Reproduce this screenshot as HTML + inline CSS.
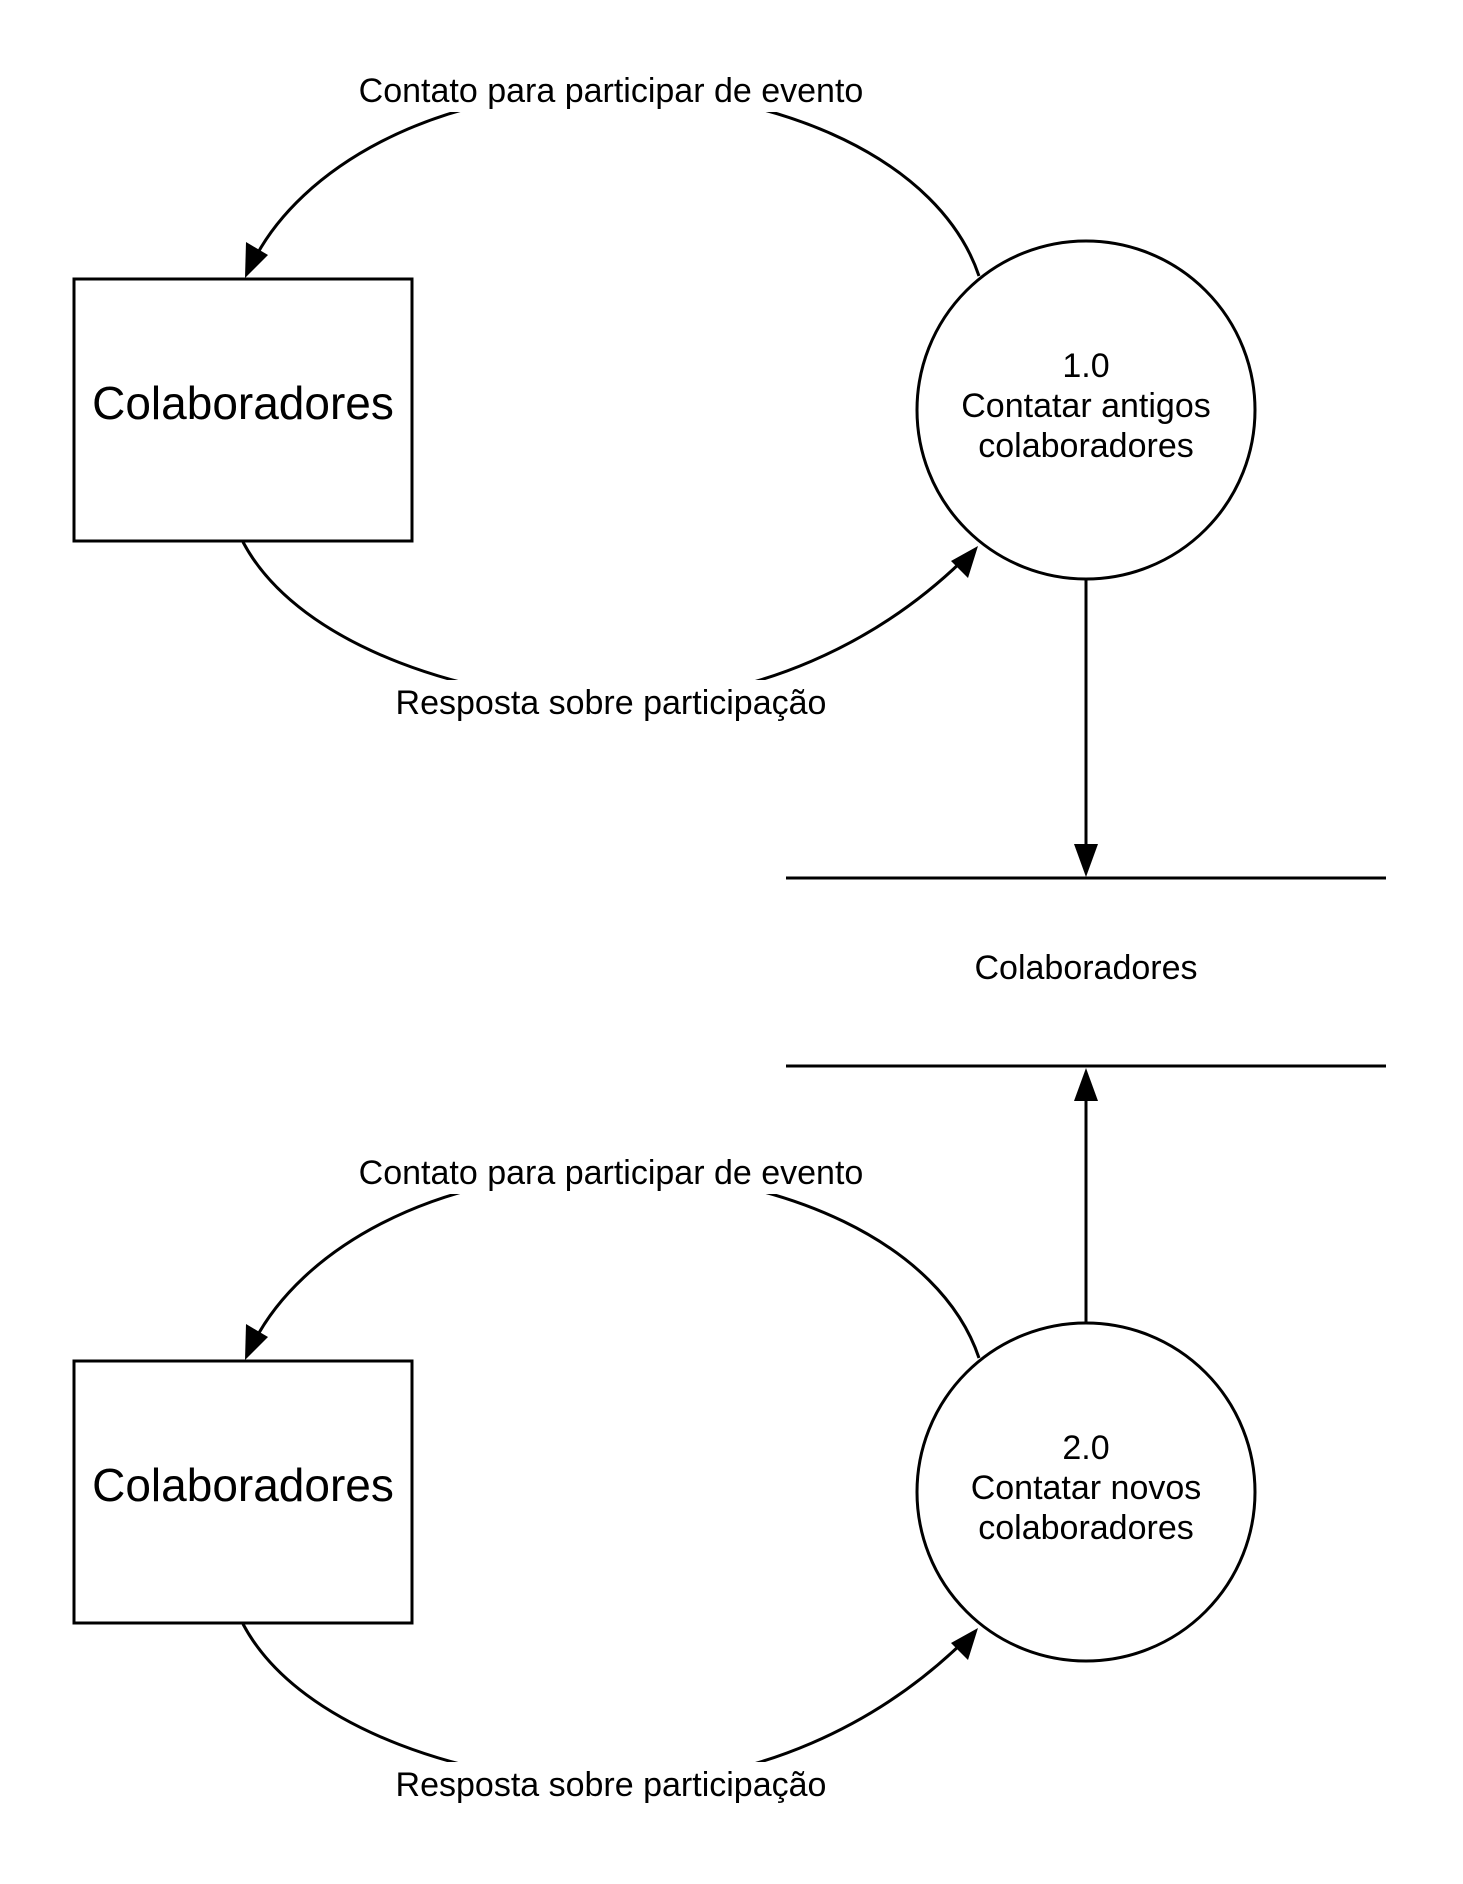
<!DOCTYPE html>
<html><head><meta charset="utf-8"><style>
html,body{margin:0;padding:0;background:#fff;}
svg{display:block;}
text{font-family:"Liberation Sans",Arial,sans-serif;fill:#000;}
</style></head><body>
<svg width="1463" height="1884" viewBox="0 0 1463 1884" xmlns="http://www.w3.org/2000/svg">
<g id="grp">
<rect x="74" y="279" width="338" height="262" fill="#fff" stroke="#000" stroke-width="3"/>
<text x="243" y="419" font-size="46" text-anchor="middle">Colaboradores</text>
<path d="M979,276 C940,160 780,90 611,90 C430,90 300,170 254,260" fill="none" stroke="#000" stroke-width="3"/>
<polygon points="245,278 246,242 268,255" fill="#000"/>
<rect x="350" y="68" width="522" height="44" fill="#fff"/>
<path d="M243,542 C300,650 480,702 611,702 C760,702 880,640 962,561" fill="none" stroke="#000" stroke-width="3"/>
<polygon points="978,546 968,578 951,561" fill="#000"/>
<rect x="383" y="680" width="456" height="44" fill="#fff"/>
<circle cx="1086" cy="410" r="169" fill="#fff" stroke="#000" stroke-width="3"/>
</g>
<text x="611" y="102" font-size="34" text-anchor="middle">Contato para participar de evento</text>
<text x="611" y="714" font-size="34" text-anchor="middle">Resposta sobre participação</text>
<text x="1086" y="377" font-size="34" text-anchor="middle">1.0</text>
<text x="1086" y="417" font-size="34" text-anchor="middle">Contatar antigos</text>
<text x="1086" y="457" font-size="34" text-anchor="middle">colaboradores</text>

<use href="#grp" y="1082"/>
<text x="611" y="1184" font-size="34" text-anchor="middle">Contato para participar de evento</text>
<text x="611" y="1796" font-size="34" text-anchor="middle">Resposta sobre participação</text>
<text x="1086" y="1459" font-size="34" text-anchor="middle">2.0</text>
<text x="1086" y="1499" font-size="34" text-anchor="middle">Contatar novos</text>
<text x="1086" y="1539" font-size="34" text-anchor="middle">colaboradores</text>

<line x1="786" y1="878" x2="1386" y2="878" stroke="#000" stroke-width="3"/>
<line x1="786" y1="1066" x2="1386" y2="1066" stroke="#000" stroke-width="3"/>
<text x="1086" y="979" font-size="34" text-anchor="middle">Colaboradores</text>

<line x1="1086" y1="579" x2="1086" y2="848" stroke="#000" stroke-width="3"/>
<polygon points="1086,877 1074,844 1098,844" fill="#000"/>
<line x1="1086" y1="1323" x2="1086" y2="1098" stroke="#000" stroke-width="3"/>
<polygon points="1086,1068 1074,1101 1098,1101" fill="#000"/>
</svg>
</body></html>
